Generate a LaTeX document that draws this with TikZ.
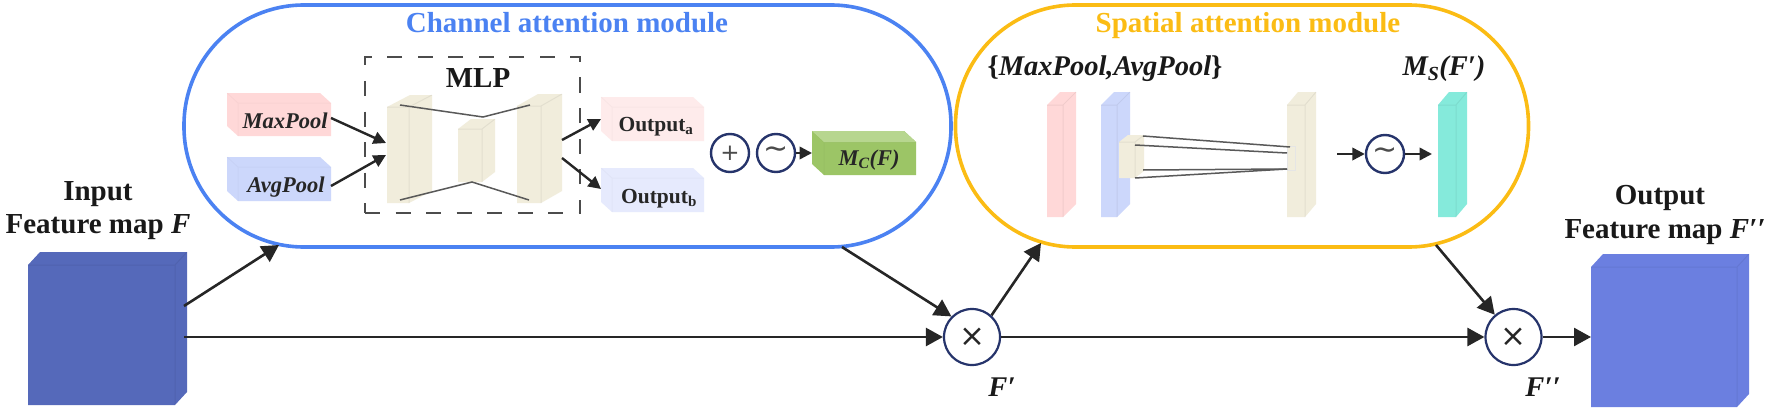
\documentclass[tikz,border=0pt]{standalone}
\usepackage{fontspec}
\setmainfont{Liberation Serif}
\newfontfamily\symfont{DejaVu Sans}
\usetikzlibrary{arrows.meta}
\definecolor{capblue}{HTML}{4B82F2}
\definecolor{capyel}{HTML}{FBBC14}
\definecolor{navy}{HTML}{26346B}
\definecolor{arrowk}{HTML}{262626}
\definecolor{pinkc}{HTML}{FFD8D8}
\definecolor{bluec}{HTML}{CCD7FB}
\definecolor{pinkl}{HTML}{FEEBEB}
\definecolor{bluel}{HTML}{E6EAFD}
\definecolor{cream}{HTML}{F1EDDC}
\definecolor{greenc}{HTML}{9CC566}
\definecolor{greent}{HTML}{B7D68F}
\definecolor{tealc}{HTML}{85EADB}
\definecolor{inblue}{HTML}{5569BA}
\definecolor{outblue}{HTML}{6B7FE0}
\newcommand{\cubeR}[8]{% name x0 y0 x1 y1 dx dy colour (back is up-right)
  \fill[#8] (#2,#3+#7) -- (#2+#6,#3) -- (#4,#3) -- (#4,#5-#7) -- (#4-#6,#5) -- (#2,#5) -- cycle;
  \draw[black,opacity=.06,line width=1pt] (#2,#3+#7) -- (#4-#6,#3+#7) -- (#4,#3) (#4-#6,#3+#7) -- (#4-#6,#5);
  \coordinate (#1) at ({(#2+#4)/2},{(#3+#5)/2});
}
\newcommand{\cubeL}[8]{% name x0 y0 x1 y1 dx dy colour (back is up-left)
  \fill[#8] (#2,#3) -- (#4-#6,#3) -- (#4,#3+#7) -- (#4,#5) -- (#2+#6,#5) -- (#2,#5-#7) -- cycle;
  \draw[black,opacity=.025,line width=1pt] (#2,#3) -- (#2+#6,#3+#7) -- (#4,#3+#7) (#2+#6,#3+#7) -- (#2+#6,#5);
  \coordinate (#1) at ({(#2+#4)/2},{(#3+#5)/2});
}
\tikzset{
  x=1pt,y=-1pt,
  flow/.style={draw=arrowk,line width=2.6pt,-{Triangle[length=17pt,width=18pt]}},
  thinflow/.style={draw=arrowk,line width=2.4pt,-{Triangle[length=12.5pt,width=12.5pt]}},
  link/.style={draw=black!65,line width=1.5pt},
  capsule/.style={draw,line width=3.6pt,fill=white,rounded corners=120pt,inner sep=0pt},
  op/.style={circle,draw=navy,line width=2.2pt,fill=white,inner sep=0pt,minimum size=56pt,font=\symfont\fontsize{31}{31}\selectfont,text=black!85},
  opsmall/.style={circle,draw=navy,line width=2.4pt,fill=white,inner sep=0pt,minimum size=38pt,font=\symfont\fontsize{23}{23}\selectfont,text=black!70},
  opwave/.style={opsmall,font=\symfont\fontsize{30}{30}\selectfont},
  big/.style={font=\fontsize{29}{33}\selectfont\bfseries,text=black!90,inner sep=0pt,anchor=base},
  bigit/.style={font=\fontsize{28.5}{32}\selectfont\bfseries\itshape,text=black!90,inner sep=0pt,anchor=base},
  lab/.style={font=\fontsize{22.5}{26}\selectfont\bfseries\itshape,text=black!85,inner sep=0pt,anchor=base},
  outlab/.style={font=\fontsize{21.5}{26}\selectfont\bfseries,text=black!85,inner sep=0pt,anchor=base},
}
\begin{document}
\begin{tikzpicture}
\useasboundingbox (0,0) rectangle (1770,412);
% capsules
\node[capsule,draw=capblue,minimum width=767pt,minimum height=242pt] (chan) at (567.5,126) {};
\node[capsule,draw=capyel,minimum width=573pt,minimum height=242pt] (spat) at (1242,126) {};
\node[big,text=capblue] (chantitle) at (567,33) {Channel attention module};
\node[big,text=capyel] (spattitle) at (1248,33) {Spatial attention module};
% MLP box
\node[draw=black!70,line width=2pt,dash pattern=on 15pt off 15.5pt,minimum width=215pt,minimum height=156pt,inner sep=0pt] (mlpbox) at (472.5,135) {};
\node[big] (mlptitle) at (478,88) {MLP};
% MLP cuboids
\cubeR{m1}{387}{95}{432}{203}{23}{12}{cream}
\cubeR{m2}{458}{119}{495}{182}{13}{10}{cream}
\cubeR{m3}{517}{94}{562}{203}{21}{12}{cream}
\coordinate (l1) at (400,105);\coordinate (l2) at (483,117);\coordinate (l3) at (530,105);
\coordinate (l4) at (400,200);\coordinate (l5) at (472,182);\coordinate (l6) at (529,200);
\draw[link] (l1) -- (l2) -- (l3);
\draw[link] (l4) -- (l5) -- (l6);
% input boxes
\cubeL{maxp}{227}{93}{331}{136}{11}{10}{pinkc}
\cubeL{avgp}{227}{157}{331}{201}{11}{10}{bluec}
\node[lab] (maxt) at (285,128) {MaxPool};
\node[lab] (avgt) at (286,192) {AvgPool};
\coordinate (maxe) at (331,118);\coordinate (avge) at (331,186);
\coordinate (m1a) at (386,143);\coordinate (m1b) at (386,155);
\draw[thinflow] (maxe) -- (m1a);
\draw[thinflow] (avge) -- (m1b);
% outputs
\cubeL{outa}{601}{97}{704}{141}{11}{10}{pinkl}
\cubeL{outb}{601}{168}{704}{212}{11}{10}{bluel}
\node[outlab] (outat) at (656,131) {Output\textsubscript{a}};
\node[outlab] (outbt) at (659,203) {Output\textsubscript{b}};
\coordinate (m3a) at (562,140);\coordinate (m3b) at (562,158);
\coordinate (oa) at (601,119);\coordinate (ob) at (601,189);
\draw[thinflow] (m3a) -- (oa);
\draw[thinflow] (m3b) -- (ob);
% channel ops
\node[opsmall] (plus) at (730,153) {+};
\node[opwave] (tilde1) at (776,153) {∼};
\cubeL{mc}{812}{131}{916}{175}{12}{11}{greenc}
\fill[greent] (812,131) -- (904,131) -- (916,142) -- (824,142) -- cycle;
\node[lab] (mct) at (869,165) {M\textsubscript{C}(F)};
\coordinate (mcw) at (812,153);
\draw[thinflow] (tilde1) -- (mcw);
% spatial contents
\node[bigit] (setlab) at (1105,76) {\textup{\{}MaxPool,AvgPool\textup{\}}};
\node[bigit] (mslab) at (1444,76) {M\textsubscript{S}(F′)};
\cubeR{s1}{1047}{92}{1076}{217}{13}{13}{pinkc}
\cubeR{s2}{1101}{92}{1130}{217}{13}{13}{bluec}
\cubeR{s3}{1119}{135}{1144}{178}{9}{7}{cream}
\cubeR{s4}{1287}{92}{1316}{217}{11}{13}{cream}
\node[draw=black!10,line width=.8pt,minimum width=8pt,minimum height=24pt,inner sep=0pt] (s4p) at (1291,158) {};
\coordinate (a1) at (1143,136);\coordinate (a2) at (1290,147);
\coordinate (b1) at (1135,145);\coordinate (b2) at (1287,153);
\coordinate (c1) at (1143,170);\coordinate (c2) at (1287,169);
\coordinate (d1) at (1135,178);\coordinate (d2) at (1287,169);
\draw[link] (a1) -- (a2);
\draw[link] (b1) -- (b2);
\draw[link] (c1) -- (c2);
\draw[link] (d1) -- (d2);
\node[opwave] (tilde2) at (1385,154) {∼};
\cubeR{ms}{1438}{92}{1467}{217}{11}{13}{tealc}
\coordinate (t2in) at (1337,154);\coordinate (t2out) at (1432,154);
\draw[thinflow] (t2in) -- (tilde2);
\draw[thinflow] (tilde2) -- (t2out);
% big blocks
\cubeR{inp}{28}{252}{187}{405}{12}{13}{inblue}
\cubeR{outp}{1591}{254}{1749}{407}{12}{13}{outblue}
\node[big] (inl) at (98,200) {Input};
\node[big] (inl2) at (98,233) {Feature map \textit{F}};
\node[big] (outl) at (1660,204) {Output};
\node[big] (outl2) at (1665,238) {Feature map \textit{F′′}};
% multiply
\node[op] (x1) at (972,337) {×};
\node[op] (x2) at (1513.5,337) {×};
\node[bigit] (f1) at (1002,396) {F′};
\node[bigit] (f2) at (1543,396) {F′′};
% connectors
\coordinate (inA) at (184,306);\coordinate (chanin) at (279,245);
\coordinate (inB) at (184,337);
\coordinate (chanout) at (842,247);
\coordinate (spatin) at (1041,243);
\coordinate (spatout) at (1436,245);
\coordinate (blockin) at (1591,337);
\draw[flow] (inA) -- (chanin);
\draw[flow] (inB) -- (x1);
\draw[flow] (chanout) -- (x1.135);
\draw[flow] (x1.48) -- (spatin);
\draw[flow] (x1) -- (x2);
\draw[flow] (spatout) -- (x2);
\draw[flow] (x2) -- (blockin);
\end{tikzpicture}
\end{document}
